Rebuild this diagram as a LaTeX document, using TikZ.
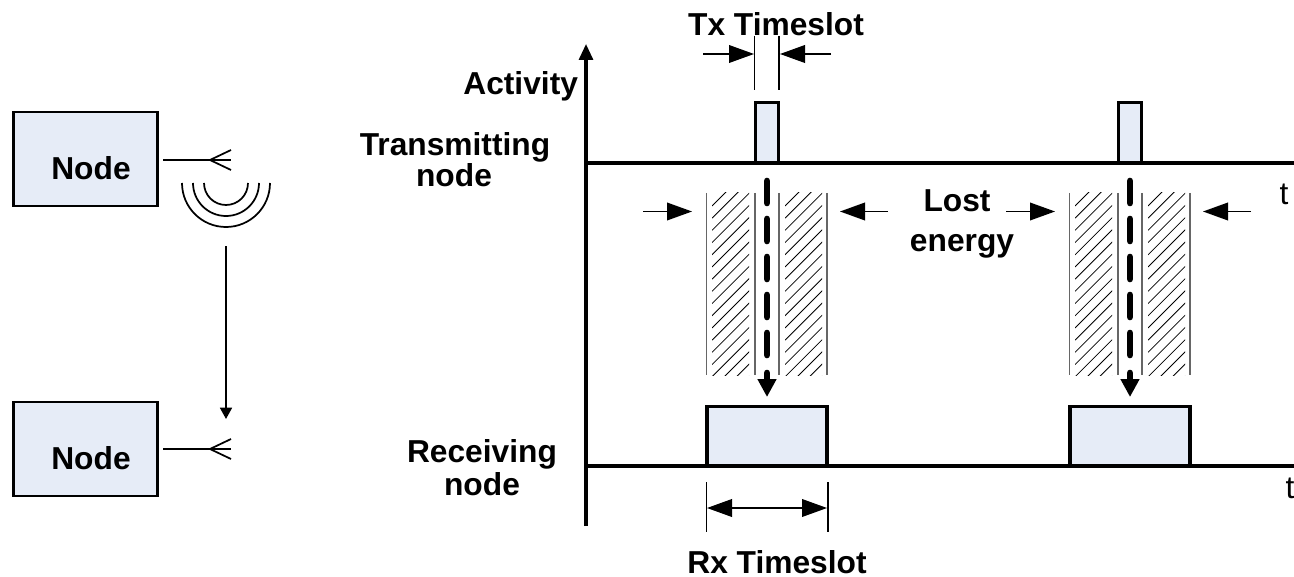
\documentclass[tikz,border=0pt]{standalone}
\usepackage{fontspec}
\setmainfont{Liberation Sans}
\usepackage{tikz}
\usetikzlibrary{arrows.meta}
\definecolor{slotblue}{HTML}{E6ECF7}

\begin{document}
\begin{tikzpicture}[x=0.75pt,y=-0.75pt,
	every node/.style={inner sep=0pt,outer sep=0pt},
	lbl/.style={font=\fontsize{23.8}{29}\selectfont\bfseries},
	tlbl/.style={font=\fontsize{23.8}{29}\selectfont},
	nodebox/.style={rectangle,draw,line width=1.7pt,fill=slotblue,minimum width=108pt,minimum height=71pt},
	txslot/.style={rectangle,draw,line width=2.4pt,fill=slotblue,minimum width=17.5pt,minimum height=45pt},
	rxslot/.style={rectangle,draw,line width=2.4pt,fill=slotblue,minimum width=90pt,minimum height=44.5pt},
	base/.style={line width=2.3pt},
	wire/.style={line width=1.3pt},
	thin line/.style={line width=1pt},
	edge line/.style={line width=0.9pt,black!60},
	dim/.style={line width=1pt,-{Triangle[length=18.75pt,width=13.3pt]}},
	flow/.style={line width=5pt,line cap=round,dash pattern=on 16.5pt off 12pt}]
	\useasboundingbox (0,0) rectangle (1294,577);
	% left side
	\node[nodebox] (node1) at (85.5,159) {};
	\node[nodebox] (node2) at (85.5,449) {};
	\node[lbl] (name1) at (91,168) {Node};
	\node[lbl] (name2) at (91,458) {Node};
	\foreach \i/\y in {1/160,2/449} {
		\coordinate (ant\i) at (163,\y);
		\coordinate (fork\i) at (210,\y);
		\coordinate (tip\i) at (231,\y);
		\draw[wire] (ant\i) -- (tip\i);
		\draw[wire] (fork\i) -- (231,\y-10);
		\draw[wire] (fork\i) -- (231,\y+10);
	}
	\foreach \r in {22,33,44}
		\draw[wire] ({226-\r},183) arc[start angle=180,end angle=0,radius=\r];
	\coordinate (wave) at (226,246);
	\coordinate (wavetip) at (226,419);
	\draw[wire,-{Triangle[length=8.5pt,width=9pt]}] (wave) -- (wavetip);
	% axes
	\coordinate (orig) at (586,526);
	\coordinate (top) at (586,44);
	\coordinate (tx0) at (586,163);
	\coordinate (tx1) at (1294,163);
	\coordinate (rx0) at (586,466);
	\coordinate (rx1) at (1294,466);
	% repeated slots
	\foreach \i/\d in {1/0,2/363} {
		\begin{scope}[xshift=\d*0.75pt]
			\foreach \a in {712,785} {
				\begin{scope}
					\clip (\a,193) rectangle (\a+37,375);
					\foreach \k in {0,...,18}
						\draw[line width=0.6pt] (\a,206+12.2*\k) -- (\a+50,156+12.2*\k);
				\end{scope}
			}
			\foreach \j/\x in {a/706.5,b/755,c/779,d/827} {
				\coordinate (h\j up) at (\x,193);
				\coordinate (h\j low) at (\x,375);
				\draw[edge line] (h\j up) -- (h\j low);
			}
			\node[txslot] (txs\i) at (767,132.5) {};
			\node[rxslot] (rxs\i) at (767,436) {};
			\coordinate (fa\i) at (767,181);
			\coordinate (fb\i) at (767,358);
			\coordinate (fc\i) at (767,373);
			\coordinate (fd\i) at (767,397);
			\draw[flow] (fa\i) -- (fb\i);
			\draw[line width=5pt,line cap=round,-{Triangle[length=13.5pt,width=13.5pt]}] (fc\i) -- (fd\i);
			\coordinate (la\i) at (643,211.5);
			\coordinate (lb\i) at (692,211.5);
			\coordinate (lc\i) at (888,211.5);
			\coordinate (ld\i) at (840,211.5);
			\draw[dim] (la\i) -- (lb\i);
			\draw[dim] (lc\i) -- (ld\i);
		\end{scope}
	}
	\draw[base,-{Triangle[length=12pt,width=10.5pt]}] (orig) -- (top);
	\draw[base] (tx0) -- (tx1);
	\draw[base] (rx0) -- (rx1);
	% Tx Timeslot
	\coordinate (ta) at (754.5,36);
	\coordinate (tb) at (754.5,90);
	\coordinate (tc) at (779,36);
	\coordinate (td) at (779,90);
	\draw[thin line] (ta) -- (tb);
	\draw[thin line] (tc) -- (td);
	\coordinate (te) at (703,54);
	\coordinate (tf) at (754,54);
	\coordinate (tg) at (831,54);
	\coordinate (th) at (780,54);
	\draw[dim] (te) -- (tf);
	\draw[dim] (tg) -- (th);
	% Rx Timeslot
	\coordinate (ra) at (706.5,482);
	\coordinate (rb) at (706.5,532);
	\coordinate (rc) at (828,482);
	\coordinate (rd) at (828,532);
	\coordinate (re) at (707,508);
	\coordinate (rf) at (827,508);
	\draw[thin line] (ra) -- (rb);
	\draw[thin line] (rc) -- (rd);
	\draw[dim,{Triangle[length=18.75pt,width=13.3pt]}-{Triangle[length=18.75pt,width=13.3pt]}] (re) -- (rf);
	% labels
	\node[lbl] (txlabel) at (776,24) {Tx Timeslot};
	\node[lbl] (rxlabel) at (777,562) {Rx Timeslot};
	\node[lbl,anchor=east] (activity) at (578,86) {Activity};
	\node[lbl] (trans) at (455,147) {Transmitting};
	\node[lbl] (transb) at (454,175) {node};
	\node[lbl] (recv) at (482,454) {Receiving};
	\node[lbl] (recvb) at (482,484) {node};
	\node[lbl] (lost) at (957,201) {Lost};
	\node[lbl] (energy) at (962,246) {energy};
	\node[tlbl] (t1) at (1284,194) {t};
	\node[tlbl] (t2) at (1290,488) {t};
\end{tikzpicture}
\end{document}
